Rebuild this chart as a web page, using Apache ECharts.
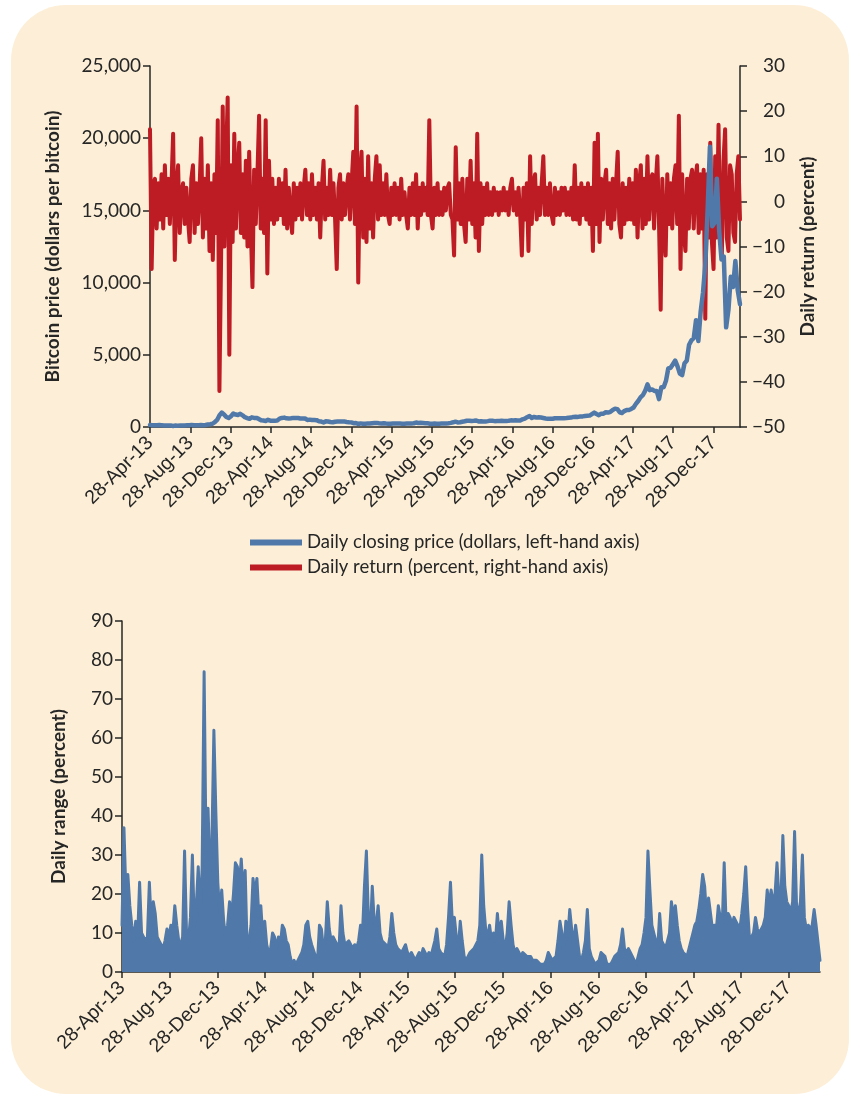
<!DOCTYPE html>
<html>
<head>
<meta charset="utf-8">
<title>Bitcoin price, daily return and daily range</title>
<script src="https://cdn.jsdelivr.net/npm/echarts@6/dist/echarts.min.js"></script>
<style>
  html, body { margin: 0; padding: 0; background: #fff; }
  #panel { position: absolute; left: 11px; top: 5px; width: 838px; height: 1089px; background: #fdefd7; border-radius: 55px; }
  #chart { position: absolute; left: 0; top: 0; width: 852px; height: 1098px; }
</style>
</head>
<body>
<div id="panel"></div>
<div id="chart"></div>
<script>
// --- data ---
const startDate = '2013-04-28';
const endDate = '2018-03-18';
const tickLabels = ['28-Apr-13', '28-Aug-13', '28-Dec-13', '28-Apr-14', '28-Aug-14', '28-Dec-14',
  '28-Apr-15', '28-Aug-15', '28-Dec-15', '28-Apr-16', '28-Aug-16', '28-Dec-16',
  '28-Apr-17', '28-Aug-17', '28-Dec-17'];

// closing price, one value per week from startDate (dollars)
const priceStepDays = 7;
const closingPrice = [
  135, 115, 115, 122, 131, 122, 100, 100, 103, 97, 76, 97, 91, 97, 105, 106, 113, 123,
  146, 127, 127, 124, 132, 123, 140, 175, 196, 225, 335, 490, 800, 1000, 870, 690, 620, 750,
  930, 860, 830, 910, 810, 680, 620, 570, 670, 630, 630, 560, 470, 450, 420, 500, 440,
  430, 440, 450, 580, 630, 650, 600, 590, 600, 630, 620, 620, 590, 590, 590, 490, 510, 480,
  480, 475, 400, 375, 320, 390, 385, 350, 325, 365, 385, 375, 380, 375, 350, 330, 320,
  265, 270, 210, 250, 225, 225, 235, 245, 260, 275, 285, 265, 250, 255, 235, 225, 220,
  240, 240, 235, 240, 225, 225, 235, 245, 250, 260, 310, 275, 290, 280, 265, 255, 230, 230,
  240, 230, 230, 235, 240, 250, 265, 285, 325, 370, 320, 325, 360, 395, 435, 440, 420,
  430, 450, 385, 400, 375, 375, 405, 440, 430, 405, 410, 410, 425, 420, 420, 430, 460,
  450, 460, 455, 445, 530, 575, 680, 760, 630, 700, 650, 680, 660, 625, 590, 570, 580, 575,
  610, 610, 610, 600, 610, 620, 640, 655, 700, 710, 700, 730, 735, 765, 780, 790, 895,
  1000, 900, 820, 920, 920, 1020, 1000, 1050, 1180, 1270, 1240, 1020, 970,
  1100, 1180, 1180, 1250, 1350, 1600, 1800, 2050, 2200, 2500, 2950, 2550, 2600,
  2500, 2500, 1930, 2750, 2750, 3200, 4050, 4100, 4350, 4600, 4200, 3700, 3600,
  4400, 4600, 5700, 6000, 6150, 7400, 5950, 8000, 9300, 11250, 15000, 19400, 13900, 14150,
  17200, 13600, 11600, 11800, 6900, 8100, 10400, 9700, 11500, 9500, 8500
];

// daily return, one value per 5 days from startDate (percent)
const returnStepDays = 5;
const dailyReturn = [
  16, -15, 4, 5, -6, 4, -4, 6, -6, 8,
  -3, 5, -5, 4, 15, -13, 3, 8, -7, 2,
  4, -5, 3, -4, -9, 5, 8, -7, 4, -5,
  3, 14, -8, 5, -6, 8, -11, 4, -13, 6,
  -7, 18, -42, -13, 21, -10, 9, 23, -34, 8,
  -9, 15, -6, 7, 13, -7, 6, -8, 9, -10,
  11, -6, -19, 7, -5, 6, 19, -6, 5, -7,
  18, -16, 9, -4, 5, -5, 3, -4, 5, -3,
  4, -5, 7, -6, 3, -3, -7, 4, -4, 3,
  -3, 4, -4, 3, 7, -3, 4, -4, 6, -3,
  3, -4, 4, -8, 3, 9, -4, 3, -3, 7,
  -3, 4, -4, -15, 3, 6, -4, 4, -3, 3,
  6, -4, 4, 11, -5, 21, -18, 6, 11, -8,
  5, -9, 10, -6, 4, -8, 5, 10, -4, 8,
  -3, 4, -3, 6, -3, -5, 3, -3, 4, -3,
  3, -4, 5, -3, 2, -3, -6, 3, -3, 4,
  -3, 6, -6, 3, -3, 4, -2, 3, -3, 18,
  -3, -6, 3, -3, 4, -3, 2, -3, 3, -2,
  3, 4, -3, -4, -12, 12, -4, 4, -5, 5,
  -5, -9, 5, -4, 9, -5, 4, -8, 15, -11,
  4, -5, 3, -3, 4, -3, 2, -3, 3, -2,
  2, -3, 2, -2, 3, -2, 2, -3, 3, 5,
  -2, 2, -3, 3, -3, -12, 3, -4, 4, -11,
  10, -5, 4, 6, -4, 3, -3, 4, 10, -3,
  3, -3, 4, -3, -5, 3, -3, 2, -3, 3,
  -2, 3, -3, 2, -3, 3, -4, 8, -4, 3,
  -5, 4, -3, 3, -4, 4, -5, 3, -11, 13,
  -5, 15, -9, 5, -4, 4, 7, -5, 4, -6,
  5, -4, 4, 11, -5, -8, 4, -5, 3, -4,
  5, -4, 4, -5, 7, -8, 4, 8, -6, 5,
  -5, 10, -4, 5, 6, -6, 4, 10, -5, -24,
  5, -6, -12, 6, -5, 4, -6, 5, 8, -5,
  19, -15, 6, -7, -11, 5, -6, 5, 7, -6,
  5, 8, -7, 6, -6, 7, -26, 6, -8, 13,
  -9, -15, 10, -8, 17, -7, -12, 9, 16, -8,
  -11, 8, 6, -7, -9, 6, 10, -4
];

// daily range, one value per 5 days from startDate (percent)
const rangeStepDays = 5;
const dailyRange = [
  12, 37, 20, 25, 17, 12, 8, 13, 9, 23, 10, 10, 8, 9, 23, 12, 18, 15, 9, 8,
  7, 6, 8, 11, 9, 12, 10, 17, 12, 8,
  7, 9, 31, 10, 8, 14, 30, 12, 17, 27,
  14, 27, 77, 30, 42, 25, 34, 62, 41, 23,
  15, 21, 13, 9, 12, 18, 14, 20, 28, 27,
  22, 29, 20, 26, 6, 8, 12, 24, 20, 24,
  14, 17, 9, 13, 7, 5, 6, 10, 9, 6,
  9, 7, 12, 11, 8, 7, 4, 2, 3, 2,
  3, 3, 5, 7, 12, 13, 9, 7, 7, 4,
  3, 12, 11, 6, 8, 18, 11, 8, 9, 8,
  7, 6, 17, 10, 7, 7, 8, 7, 6, 7,
  6, 8, 12, 10, 22, 31, 14, 10, 22, 13,
  12, 17, 10, 8, 8, 7, 6, 9, 15, 10,
  7, 6, 6, 5, 6, 7, 5, 4, 5, 4,
  3, 4, 5, 4, 6, 6, 4, 5, 4, 6,
  8, 11, 6, 5, 5, 4, 7, 14, 23, 12,
  14, 9, 6, 13, 8, 4, 3, 4, 5, 5,
  6, 6, 8, 12, 30, 17, 11, 9, 12, 8,
  10, 8, 15, 9, 13, 8, 6, 10, 18, 12,
  7, 5, 6, 5, 4, 5, 5, 4, 4, 4,
  3, 3, 3, 3, 2, 2, 2, 3, 5, 4,
  3, 3, 4, 8, 13, 10, 5, 13, 9, 16,
  11, 7, 12, 8, 4, 3, 5, 8, 16, 6,
  4, 3, 2, 2, 3, 5, 5, 4, 2, 1.5,
  2, 3, 4, 4, 5, 7, 11, 6, 5, 6,
  5, 4, 3, 2, 4, 6, 7, 10, 14, 31,
  21, 12, 10, 8, 6, 15, 8, 7, 6, 8,
  10, 18, 14, 17, 12, 8, 6, 5, 5, 4,
  6, 8, 10, 12, 13, 16, 20, 25, 22, 14,
  19, 15, 11, 12, 11, 17, 14, 12, 28, 12,
  15, 14, 12, 14, 13, 12, 11, 15, 20, 27,
  16, 8, 9, 10, 14, 11, 10, 10, 12, 14,
  21, 17, 21, 18, 20, 28, 19, 18, 35, 22,
  18, 17, 15, 18, 36, 17, 15, 18, 30, 14,
  11, 12, 11, 12, 16, 12, 12, 3
];

const priceName = 'Daily closing price (dollars, left-hand axis)';
const returnName = 'Daily return (percent, right-hand axis)';

// --- helpers: x is counted in days since startDate ---
const DAY = 86400000;
const MONTHS = { Jan: 0, Feb: 1, Mar: 2, Apr: 3, May: 4, Jun: 5, Jul: 6, Aug: 7, Sep: 8, Oct: 9, Nov: 10, Dec: 11 };
const t0 = Date.parse(startDate + 'T00:00:00Z');
const lastDay = Math.round((Date.parse(endDate + 'T00:00:00Z') - t0) / DAY);
const tickDays = tickLabels.map(s => {
  const [d, m, y] = s.split('-');
  return Math.round((Date.UTC(2000 + Number(y), MONTHS[m], Number(d)) - t0) / DAY);
});
const labelOf = v => {
  const k = tickDays.indexOf(Math.round(v));
  return k < 0 ? '' : tickLabels[k];
};
const toPairs = (vals, step) => vals.map((v, i) => [i * step, v]);

const ink = '#262626';
const numFont = 'Lato';
const dateFont = 'Liberation Sans';
const blue = '#5079a9';
const red = '#bd1c24';

const xAxisFor = gridIndex => ({
  type: 'value', gridIndex, min: 0, max: lastDay,
  axisLine: { show: true, onZero: false, lineStyle: { color: ink, width: 1.5 } },
  axisTick: { show: true, customValues: tickDays, length: 6, lineStyle: { color: ink, width: 1.5 } },
  axisLabel: {
    customValues: tickDays, rotate: 45, margin: 13, formatter: v => labelOf(v),
    fontFamily: dateFont, fontSize: 19.5, color: ink
  },
  splitLine: { show: false }
});

const yAxisStyle = {
  axisLine: { show: true, lineStyle: { color: ink, width: 1.5 } },
  axisTick: { show: true, length: 7, lineStyle: { color: ink, width: 1.5 } },
  splitLine: { show: false },
  nameLocation: 'middle', nameRotate: 90,
  nameTextStyle: { fontFamily: numFont, fontWeight: 'bold', fontSize: 19, color: ink }
};
const tickText = { fontFamily: numFont, fontSize: 19, color: ink };

const chart = echarts.init(document.getElementById('chart'));
chart.setOption({
  animation: false,
  backgroundColor: 'transparent',
  grid: [
    { left: 150, right: 112, top: 66, bottom: 671 },
    { left: 122, right: 32, top: 621, bottom: 126 }
  ],
  legend: {
    data: [priceName, returnName],
    orient: 'vertical', left: 245, top: 528,
    icon: 'rect', itemWidth: 52, itemHeight: 6, itemGap: 6,
    textStyle: { fontFamily: numFont, fontSize: 18.5, lineHeight: 19, color: ink }
  },
  xAxis: [xAxisFor(0), xAxisFor(1)],
  yAxis: [
    Object.assign({}, yAxisStyle, {
      type: 'value', gridIndex: 0, position: 'left', min: 0, max: 25000, interval: 5000,
      name: 'Bitcoin price (dollars per bitcoin)', nameGap: 88,
      axisLabel: Object.assign({}, tickText, { margin: 9, formatter: v => v.toLocaleString('en-US') })
    }),
    Object.assign({}, yAxisStyle, {
      type: 'value', gridIndex: 0, position: 'right', min: -50, max: 30, interval: 10,
      name: 'Daily return (percent)', nameGap: 58,
      axisLabel: Object.assign({}, tickText, { margin: 45, align: 'right', formatter: v => String(v).replace('-', '\u2212') })
    }),
    Object.assign({}, yAxisStyle, {
      type: 'value', gridIndex: 1, min: 0, max: 90, interval: 10,
      name: 'Daily range (percent)', nameGap: 54,
      axisLabel: Object.assign({}, tickText, { margin: 9 })
    })
  ],
  series: [
    {
      name: returnName, type: 'line', xAxisIndex: 0, yAxisIndex: 1,
      data: toPairs(dailyReturn, returnStepDays),
      showSymbol: false, color: red,
      lineStyle: { color: red, width: 4, join: 'round', cap: 'round' }
    },
    {
      name: priceName, type: 'line', xAxisIndex: 0, yAxisIndex: 0,
      data: toPairs(closingPrice, priceStepDays),
      showSymbol: false, color: blue,
      lineStyle: { color: blue, width: 4.5, join: 'round', cap: 'round' }
    },
    {
      name: 'Daily range', type: 'line', xAxisIndex: 1, yAxisIndex: 2,
      data: toPairs(dailyRange, rangeStepDays),
      showSymbol: false, color: blue,
      lineStyle: { color: blue, width: 3, join: 'round', cap: 'round' },
      areaStyle: { color: blue, opacity: 1 }
    }
  ]
});
</script>
</body>
</html>
